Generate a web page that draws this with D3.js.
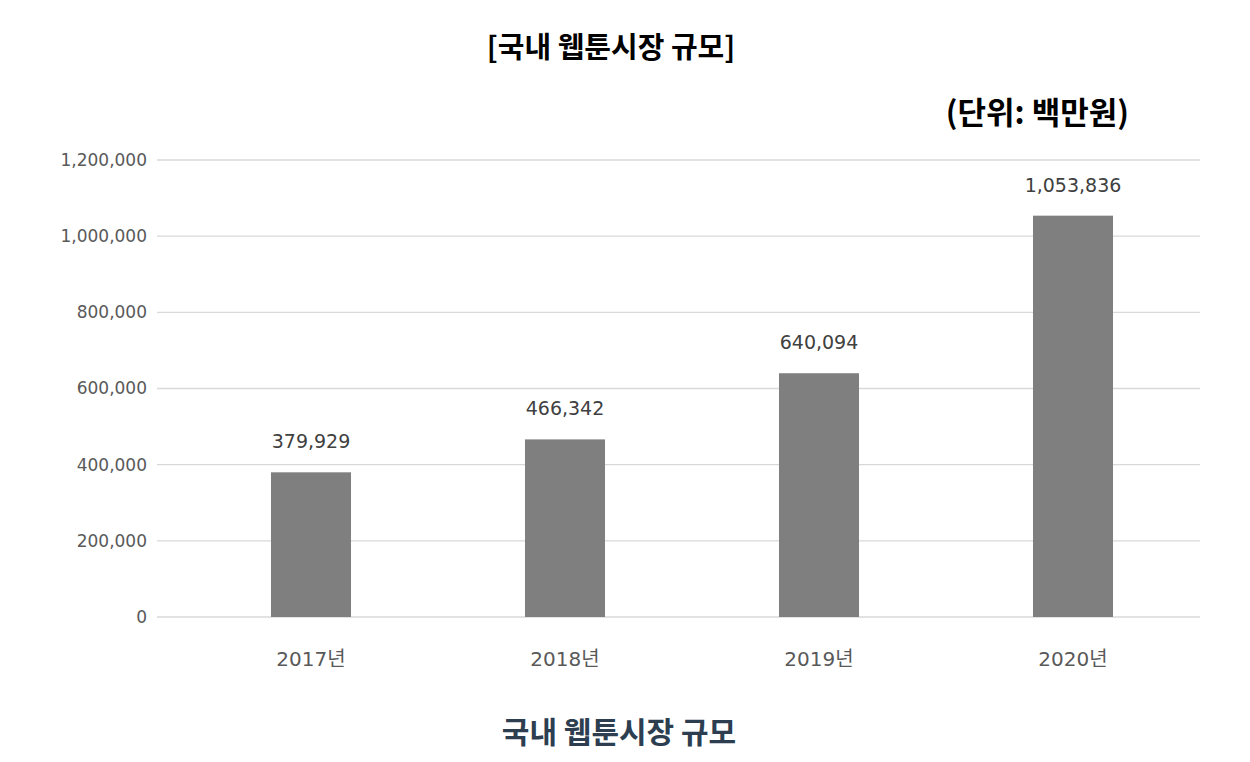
<!DOCTYPE html>
<html>
<head>
<meta charset="utf-8">
<script src="https://cdn.jsdelivr.net/npm/d3@7"></script>
<style>
  body { margin: 0; background: #fff; }
  text { font-family: "Noto Sans CJK KR", "Noto Sans", sans-serif; }
  .num { font-family: "DejaVu Sans", "Noto Sans CJK KR", sans-serif; }
</style>
</head>
<body>
<svg id="chart"></svg>
<script>
const years = ["2017년", "2018년", "2019년", "2020년"];
const marketSize = [379929, 466342, 640094, 1053836];
const yTicks = [0, 200000, 400000, 600000, 800000, 1000000, 1200000];

const width = 1250, height = 762;
const svg = d3.select("#chart").attr("width", width).attr("height", height);

const gridLeft = 157, plotRight = 1200, plotTop = 160, plotBottom = 617;

const x = d3.scaleBand()
  .domain(years)
  .range([184, plotRight])
  .paddingInner(0.685)
  .paddingOuter(0.3425);

const y = d3.scaleLinear()
  .domain([0, 1200000])
  .range([plotBottom, plotTop]);

const fmt = d3.format(",");

// gridlines
svg.append("g")
  .selectAll("line")
  .data(yTicks)
  .enter()
  .append("line")
  .attr("x1", gridLeft)
  .attr("x2", plotRight)
  .attr("y1", d => y(d))
  .attr("y2", d => y(d))
  .attr("stroke", "#d9d9d9")
  .attr("stroke-width", 1.3);

// y axis labels
svg.append("g")
  .selectAll("text")
  .data(yTicks)
  .enter()
  .append("text")
  .attr("class", "num")
  .attr("x", 147)
  .attr("y", d => y(d))
  .attr("dy", "0.35em")
  .attr("text-anchor", "end")
  .attr("fill", "#595959")
  .style("font-size", "17px")
  .text(d => fmt(d));

const data = years.map((yr, i) => ({ year: yr, value: marketSize[i] }));

// bars
svg.append("g")
  .selectAll("rect")
  .data(data)
  .enter()
  .append("rect")
  .attr("x", d => x(d.year))
  .attr("width", x.bandwidth())
  .attr("y", d => y(d.value))
  .attr("height", d => y(0) - y(d.value))
  .attr("fill", "#7f7f7f");

// value labels
svg.append("g")
  .selectAll("text")
  .data(data)
  .enter()
  .append("text")
  .attr("class", "num")
  .attr("x", d => x(d.year) + x.bandwidth() / 2)
  .attr("y", d => y(d.value) - 24)
  .attr("text-anchor", "middle")
  .attr("fill", "#404040")
  .style("font-size", "19px")
  .text(d => fmt(d.value));

// x axis labels
svg.append("g")
  .selectAll("text")
  .data(years)
  .enter()
  .append("text")
  .attr("class", "num")
  .attr("x", d => x(d) + x.bandwidth() / 2)
  .attr("y", 666)
  .attr("text-anchor", "middle")
  .attr("fill", "#595959")
  .style("font-size", "20px")
  .text(d => d);

// titles
svg.append("text")
  .attr("x", 611)
  .attr("y", 58)
  .attr("text-anchor", "middle")
  .attr("fill", "#000")
  .style("font-size", "29px")
  .style("font-weight", "bold")
  .text("[국내 웹툰시장 규모]");

svg.append("text")
  .attr("x", 1129)
  .attr("y", 124)
  .attr("text-anchor", "end")
  .attr("fill", "#000")
  .style("font-size", "31px")
  .style("font-weight", "bold")
  .text("(단위: 백만원)");

svg.append("text")
  .attr("x", 619)
  .attr("y", 743)
  .attr("text-anchor", "middle")
  .attr("fill", "#2c3e50")
  .style("font-size", "30px")
  .style("font-weight", "bold")
  .text("국내 웹툰시장 규모");
</script>
</body>
</html>
